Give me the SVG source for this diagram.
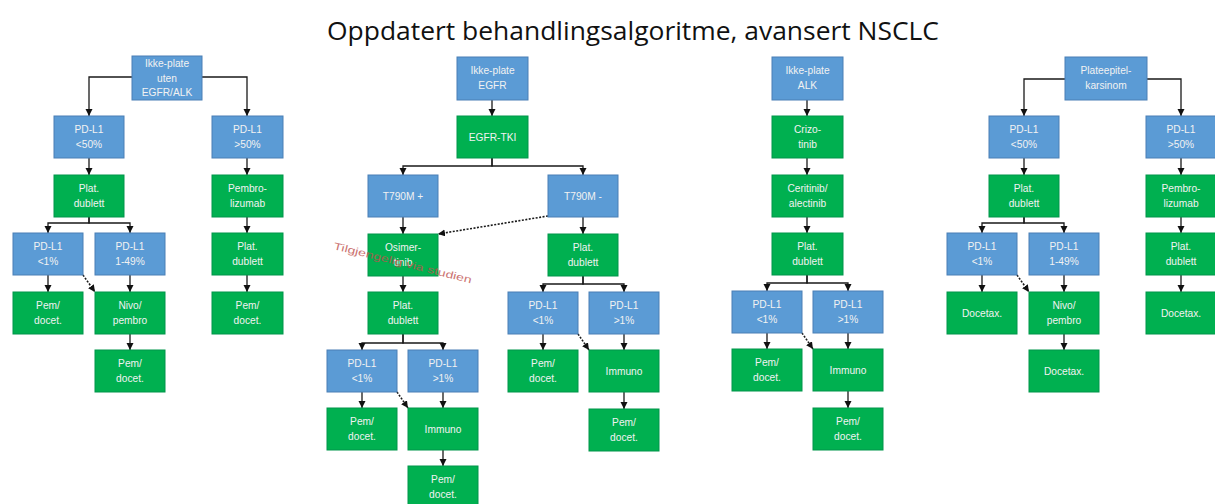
<svg xmlns="http://www.w3.org/2000/svg" width="1215" height="504" viewBox="0 0 1215 504">
<style>
.b{fill:#5B9BD5;stroke:#4A7FB5;stroke-width:1}
.g{fill:#00B050;stroke:#00954A;stroke-width:1}
.t{font-family:"Liberation Sans",Arial,sans-serif;font-size:10.2px;fill:#F2F2F2;text-anchor:middle}
.c{fill:none;stroke:#1a1a1a;stroke-width:1.3;marker-end:url(#ah)}
.d{fill:none;stroke:#1a1a1a;stroke-width:1.6;stroke-dasharray:2 1.5;marker-end:url(#ah)}
.title{font-family:"Open Sans","Liberation Sans",sans-serif;font-size:25px;fill:#111}
.red{font-family:"Liberation Sans",Arial,sans-serif;font-size:10px;fill:#C0504D;opacity:0.8}
</style>
<defs>
<marker id="ah" markerUnits="userSpaceOnUse" markerWidth="8" markerHeight="8" refX="7" refY="3.5" orient="auto">
<path d="M0,0 L7,3.5 L0,7 z" fill="#111"/>
</marker>
</defs>
<rect width="1215" height="504" fill="#fff"/>
<text class="title" x="633" y="40" text-anchor="middle" textLength="612" lengthAdjust="spacingAndGlyphs">Oppdatert behandlingsalgoritme, avansert NSCLC</text>

<g id="connectors">
<!-- tree 1 -->
<path class="c" d="M132,77 H89 V116"/>
<path class="c" d="M202,77 H247 V116"/>
<path class="c" d="M89,158 V175"/>
<path class="c" d="M247,158 V175"/>
<path class="c" d="M89,217 V223 H48 V233"/>
<path class="c" d="M89,217 V223 H130 V233"/>
<path class="c" d="M247,217 V233"/>
<path class="c" d="M48,275 V292"/>
<path class="c" d="M130,275 V292"/>
<path class="d" d="M83,275 L95,292"/>
<path class="c" d="M247,275 V292"/>
<path class="c" d="M130,334 V350"/>
<!-- tree 2 -->
<path class="c" d="M492,100 V116"/>
<path class="c" d="M492,158 V166 H403 V175"/>
<path class="c" d="M492,158 V166 H583 V175"/>
<path class="c" d="M403,217 V234"/>
<path class="d" d="M548,216 L438,234"/>
<path class="c" d="M583,217 V234"/>
<path class="c" d="M403,276 V292"/>
<path class="c" d="M403,334 V343 H362 V350"/>
<path class="c" d="M403,334 V343 H443 V350"/>
<path class="c" d="M362,392 V408"/>
<path class="c" d="M443,392 V408"/>
<path class="d" d="M397,392 L408,408"/>
<path class="c" d="M443,450 V466"/>
<path class="c" d="M583,276 V284 H543 V292"/>
<path class="c" d="M583,276 V284 H624 V292"/>
<path class="c" d="M543,334 V350"/>
<path class="c" d="M624,334 V350"/>
<path class="d" d="M578,334 L589,350"/>
<path class="c" d="M624,392 V409"/>
<!-- tree 3 -->
<path class="c" d="M807,100 V116"/>
<path class="c" d="M807,158 V175"/>
<path class="c" d="M807,217 V233"/>
<path class="c" d="M807,275 V283 H767 V291"/>
<path class="c" d="M807,275 V283 H848 V291"/>
<path class="c" d="M767,333 V349"/>
<path class="c" d="M848,333 V349"/>
<path class="d" d="M802,333 L813,349"/>
<path class="c" d="M848,391 V408"/>
<!-- tree 4 -->
<path class="c" d="M1065,79 H1024 V116"/>
<path class="c" d="M1147,79 H1181 V116"/>
<path class="c" d="M1024,158 V175"/>
<path class="c" d="M1181,158 V175"/>
<path class="c" d="M1024,217 V223 H982 V233"/>
<path class="c" d="M1024,217 V223 H1064 V233"/>
<path class="c" d="M1181,217 V233"/>
<path class="c" d="M982,275 V292"/>
<path class="c" d="M1064,275 V292"/>
<path class="d" d="M1017,275 L1029,292"/>
<path class="c" d="M1181,275 V292"/>
<path class="c" d="M1064,334 V350"/>
</g>

<!-- Tree 1 -->
<g id="t1-root"><rect class="b" x="132" y="56" width="70" height="44"/><text class="t"><tspan x="167" y="67">Ikke-plate</tspan><tspan x="167" y="81.5">uten</tspan><tspan x="167" y="96">EGFR/ALK</tspan></text></g>
<g id="t1-pdl50lo"><rect class="b" x="54" y="116" width="70" height="42"/><text class="t"><tspan x="89" y="133">PD-L1</tspan><tspan x="89" y="148">&lt;50%</tspan></text></g>
<g id="t1-pdl50hi"><rect class="b" x="212" y="116" width="71" height="42"/><text class="t"><tspan x="247.5" y="133">PD-L1</tspan><tspan x="247.5" y="148">&gt;50%</tspan></text></g>
<g id="t1-plat"><rect class="g" x="54" y="175" width="70" height="42"/><text class="t"><tspan x="89" y="192">Plat.</tspan><tspan x="89" y="207">dublett</tspan></text></g>
<g id="t1-pembro"><rect class="g" x="212" y="175" width="71" height="42"/><text class="t"><tspan x="247.5" y="192">Pembro-</tspan><tspan x="247.5" y="207">lizumab</tspan></text></g>
<g id="t1-pdl1lo"><rect class="b" x="13" y="233" width="70" height="42"/><text class="t"><tspan x="48" y="250">PD-L1</tspan><tspan x="48" y="265">&lt;1%</tspan></text></g>
<g id="t1-pdl149"><rect class="b" x="95" y="233" width="70" height="42"/><text class="t"><tspan x="130" y="250">PD-L1</tspan><tspan x="130" y="265">1-49%</tspan></text></g>
<g id="t1-plat2"><rect class="g" x="212" y="233" width="71" height="42"/><text class="t"><tspan x="247.5" y="250">Plat.</tspan><tspan x="247.5" y="265">dublett</tspan></text></g>
<g id="t1-pem1"><rect class="g" x="13" y="292" width="70" height="42"/><text class="t"><tspan x="48" y="309">Pem/</tspan><tspan x="48" y="324">docet.</tspan></text></g>
<g id="t1-nivo"><rect class="g" x="95" y="292" width="70" height="42"/><text class="t"><tspan x="130" y="309">Nivo/</tspan><tspan x="130" y="324">pembro</tspan></text></g>
<g id="t1-pem2"><rect class="g" x="212" y="292" width="71" height="42"/><text class="t"><tspan x="247.5" y="309">Pem/</tspan><tspan x="247.5" y="324">docet.</tspan></text></g>
<g id="t1-pem3"><rect class="g" x="95" y="350" width="70" height="42"/><text class="t"><tspan x="130" y="367">Pem/</tspan><tspan x="130" y="382">docet.</tspan></text></g>

<!-- Tree 2 -->
<g id="t2-root"><rect class="b" x="457" y="57" width="71" height="43"/><text class="t"><tspan x="492.5" y="74">Ikke-plate</tspan><tspan x="492.5" y="89">EGFR</tspan></text></g>
<g id="t2-tki"><rect class="g" x="457" y="116" width="71" height="42"/><text class="t" x="492.5" y="140.5">EGFR-TKI</text></g>
<g id="t2-t790p"><rect class="b" x="368" y="175" width="70" height="42"/><text class="t" x="403" y="199.5">T790M +</text></g>
<g id="t2-t790m"><rect class="b" x="548" y="175" width="70" height="42"/><text class="t" x="583" y="199.5">T790M -</text></g>
<g id="t2-osi"><rect class="g" x="368" y="234" width="70" height="42"/><text class="t"><tspan x="403" y="251">Osimer-</tspan><tspan x="403" y="266">tinib</tspan></text></g>
<g id="t2-platR"><rect class="g" x="548" y="234" width="70" height="42"/><text class="t"><tspan x="583" y="251">Plat.</tspan><tspan x="583" y="266">dublett</tspan></text></g>
<g id="t2-platL"><rect class="g" x="368" y="292" width="70" height="42"/><text class="t"><tspan x="403" y="309">Plat.</tspan><tspan x="403" y="324">dublett</tspan></text></g>
<g id="t2-L-pdlo"><rect class="b" x="327" y="350" width="70" height="42"/><text class="t"><tspan x="362" y="367">PD-L1</tspan><tspan x="362" y="382">&lt;1%</tspan></text></g>
<g id="t2-L-pdhi"><rect class="b" x="408" y="350" width="70" height="42"/><text class="t"><tspan x="443" y="367">PD-L1</tspan><tspan x="443" y="382">&gt;1%</tspan></text></g>
<g id="t2-L-pem"><rect class="g" x="327" y="408" width="70" height="42"/><text class="t"><tspan x="362" y="425">Pem/</tspan><tspan x="362" y="440">docet.</tspan></text></g>
<g id="t2-L-imm"><rect class="g" x="408" y="408" width="70" height="42"/><text class="t" x="443" y="432.5">Immuno</text></g>
<g id="t2-L-pem2"><rect class="g" x="408" y="466" width="70" height="42"/><text class="t"><tspan x="443" y="483">Pem/</tspan><tspan x="443" y="498">docet.</tspan></text></g>
<g id="t2-R-pdlo"><rect class="b" x="508" y="292" width="70" height="42"/><text class="t"><tspan x="543" y="309">PD-L1</tspan><tspan x="543" y="324">&lt;1%</tspan></text></g>
<g id="t2-R-pdhi"><rect class="b" x="589" y="292" width="70" height="42"/><text class="t"><tspan x="624" y="309">PD-L1</tspan><tspan x="624" y="324">&gt;1%</tspan></text></g>
<g id="t2-R-pem"><rect class="g" x="508" y="350" width="70" height="42"/><text class="t"><tspan x="543" y="367">Pem/</tspan><tspan x="543" y="382">docet.</tspan></text></g>
<g id="t2-R-imm"><rect class="g" x="589" y="350" width="70" height="42"/><text class="t" x="624" y="374.5">Immuno</text></g>
<g id="t2-R-pem2"><rect class="g" x="589" y="409" width="70" height="42"/><text class="t"><tspan x="624" y="426">Pem/</tspan><tspan x="624" y="441">docet.</tspan></text></g>
<text class="red" x="333" y="249" transform="rotate(14 333 249)" textLength="142" lengthAdjust="spacingAndGlyphs">Tilgjengelig via studien</text>

<!-- Tree 3 -->
<g id="t3-root"><rect class="b" x="772" y="57" width="71" height="43"/><text class="t"><tspan x="807.5" y="74">Ikke-plate</tspan><tspan x="807.5" y="89">ALK</tspan></text></g>
<g id="t3-crizo"><rect class="g" x="772" y="116" width="71" height="42"/><text class="t"><tspan x="807.5" y="133">Crizo-</tspan><tspan x="807.5" y="148">tinib</tspan></text></g>
<g id="t3-ceri"><rect class="g" x="772" y="175" width="71" height="42"/><text class="t"><tspan x="807.5" y="192">Ceritinib/</tspan><tspan x="807.5" y="207">alectinib</tspan></text></g>
<g id="t3-plat"><rect class="g" x="772" y="233" width="71" height="42"/><text class="t"><tspan x="807.5" y="250">Plat.</tspan><tspan x="807.5" y="265">dublett</tspan></text></g>
<g id="t3-pdlo"><rect class="b" x="732" y="291" width="70" height="42"/><text class="t"><tspan x="767" y="308">PD-L1</tspan><tspan x="767" y="323">&lt;1%</tspan></text></g>
<g id="t3-pdhi"><rect class="b" x="813" y="291" width="70" height="42"/><text class="t"><tspan x="848" y="308">PD-L1</tspan><tspan x="848" y="323">&gt;1%</tspan></text></g>
<g id="t3-pem"><rect class="g" x="732" y="349" width="70" height="42"/><text class="t"><tspan x="767" y="366">Pem/</tspan><tspan x="767" y="381">docet.</tspan></text></g>
<g id="t3-imm"><rect class="g" x="813" y="349" width="70" height="42"/><text class="t" x="848" y="373.5">Immuno</text></g>
<g id="t3-pem2"><rect class="g" x="813" y="408" width="70" height="42"/><text class="t"><tspan x="848" y="425">Pem/</tspan><tspan x="848" y="440">docet.</tspan></text></g>

<!-- Tree 4 -->
<g id="t4-root"><rect class="b" x="1065" y="57" width="82" height="43"/><text class="t"><tspan x="1106" y="74">Plateepitel-</tspan><tspan x="1106" y="89">karsinom</tspan></text></g>
<g id="t4-pdl50lo"><rect class="b" x="989" y="116" width="70" height="42"/><text class="t"><tspan x="1024" y="133">PD-L1</tspan><tspan x="1024" y="148">&lt;50%</tspan></text></g>
<g id="t4-pdl50hi"><rect class="b" x="1146" y="116" width="70" height="42"/><text class="t"><tspan x="1181" y="133">PD-L1</tspan><tspan x="1181" y="148">&gt;50%</tspan></text></g>
<g id="t4-plat"><rect class="g" x="989" y="175" width="70" height="42"/><text class="t"><tspan x="1024" y="192">Plat.</tspan><tspan x="1024" y="207">dublett</tspan></text></g>
<g id="t4-pembro"><rect class="g" x="1146" y="175" width="70" height="42"/><text class="t"><tspan x="1181" y="192">Pembro-</tspan><tspan x="1181" y="207">lizumab</tspan></text></g>
<g id="t4-pdl1lo"><rect class="b" x="947" y="233" width="70" height="42"/><text class="t"><tspan x="982" y="250">PD-L1</tspan><tspan x="982" y="265">&lt;1%</tspan></text></g>
<g id="t4-pdl149"><rect class="b" x="1029" y="233" width="70" height="42"/><text class="t"><tspan x="1064" y="250">PD-L1</tspan><tspan x="1064" y="265">1-49%</tspan></text></g>
<g id="t4-plat2"><rect class="g" x="1146" y="233" width="70" height="42"/><text class="t"><tspan x="1181" y="250">Plat.</tspan><tspan x="1181" y="265">dublett</tspan></text></g>
<g id="t4-doc1"><rect class="g" x="947" y="292" width="70" height="42"/><text class="t" x="982" y="316.5">Docetax.</text></g>
<g id="t4-nivo"><rect class="g" x="1029" y="292" width="70" height="42"/><text class="t"><tspan x="1064" y="309">Nivo/</tspan><tspan x="1064" y="324">pembro</tspan></text></g>
<g id="t4-doc2"><rect class="g" x="1146" y="292" width="70" height="42"/><text class="t" x="1181" y="316.5">Docetax.</text></g>
<g id="t4-doc3"><rect class="g" x="1029" y="350" width="70" height="42"/><text class="t" x="1064" y="374.5">Docetax.</text></g>
</svg>
